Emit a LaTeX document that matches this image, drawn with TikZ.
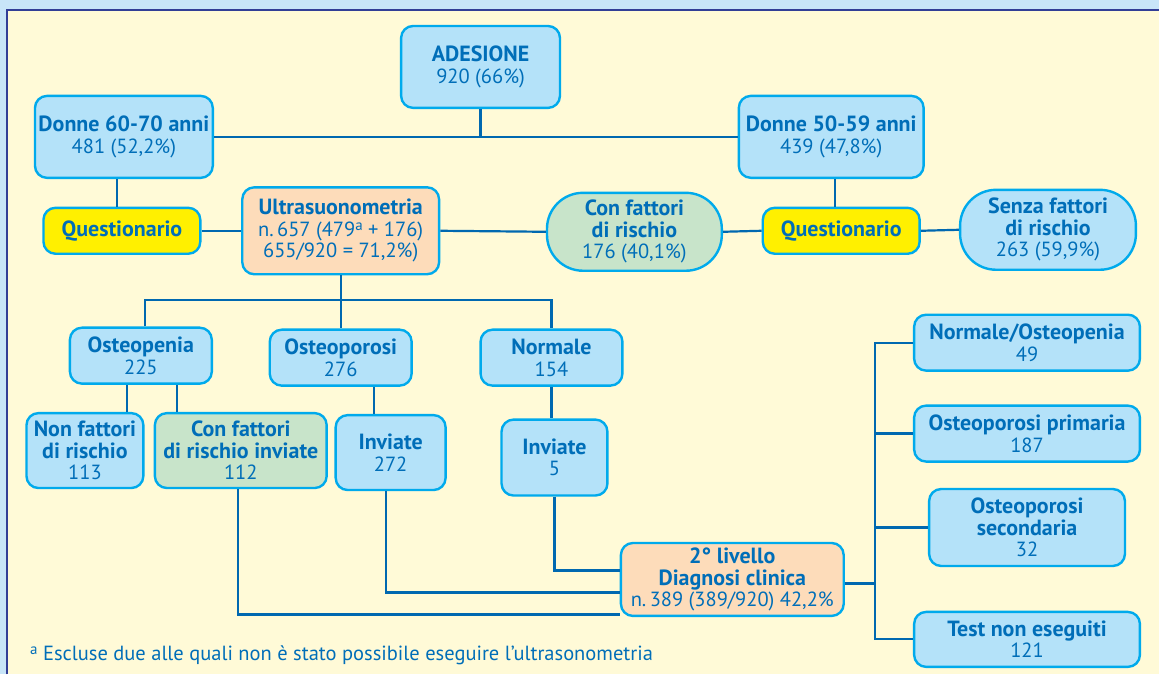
\documentclass[tikz,border=0pt]{standalone}
\usepackage{fontspec}
\setmainfont{PT Sans}
\usetikzlibrary{positioning}

\definecolor{sfondo}{RGB}{200,229,248}
\definecolor{pannello}{RGB}{255,250,215}
\definecolor{cornice}{RGB}{50,62,150}
\definecolor{bordo}{RGB}{0,170,236}
\definecolor{azzurro}{RGB}{180,226,249}
\definecolor{pesca}{RGB}{253,220,186}
\definecolor{verde}{RGB}{200,228,202}
\definecolor{giallo}{RGB}{255,240,0}
\definecolor{testo}{RGB}{0,110,184}
\definecolor{linea}{RGB}{0,104,176}

\newcommand{\tit}[1]{{\fontsize{22}{21.5}\selectfont\bfseries #1}}
\newcommand{\apice}{\raisebox{6pt}{\fontsize{15}{15}\selectfont a}}

\begin{document}
\begin{tikzpicture}[x=1pt,y=-1pt,font=\fontsize{20.5}{21.5}\selectfont]
\tikzstyle{block} = [rectangle, draw=bordo, line width=2.4pt, fill=azzurro,
text=testo, align=center, rounded corners=12pt, inner sep=1pt]
\tikzstyle{block_op} = [block, fill=pesca]
\tikzstyle{block_gr} = [block, fill=verde]
\tikzstyle{quest} = [block, fill=giallo]
\tikzstyle{cloud} = [block, rounded corners=36pt]
\tikzstyle{line} = [draw=linea, line width=2.2pt]

% sfondo e cornice
\fill[sfondo] (0,0) rectangle (1160,675);
\fill[pannello] (7,10) rectangle (1160,675);
\draw[cornice, line width=2.2pt] (7,675) -- (7,10) -- (1160,10);

% riga 1
\node [block, minimum width=159pt, minimum height=82pt] (adesione) at (481,67)
  {\tit{ADESIONE}\\920 (66\%)};
\node [block, minimum width=178pt, minimum height=82pt] (donne6070) at (124,137)
  {\tit{Donne 60-70 anni}\\481 (52,2\%)};
\node [block, minimum width=185pt, minimum height=82pt] (donne5059) at (832,137)
  {\tit{Donne 50-59 anni}\\439 (47,8\%)};
% riga 2
\node [quest, minimum width=157pt, minimum height=46pt] (quest1) at (122,231)
  {\tit{Questionario}};
\node [block_op, minimum width=197pt, minimum height=87pt] (ultra) at (341,231)
  {\tit{Ultrasuonometria}\\n.\,657 (479\apice{} + 176)\\655/920 = 71,2\%)};
\node [cloud, fill=verde, minimum width=175pt, minimum height=78pt] (confatt) at (635,232)
  {\tit{Con fattori}\\\tit{di rischio}\\176 (40,1\%)};
\node [quest, minimum width=157pt, minimum height=46pt] (quest2) at (842,231)
  {\tit{Questionario}};
\node [cloud, minimum width=176pt, minimum height=80pt] (senza) at (1049,230)
  {\tit{Senza fattori}\\\tit{di rischio}\\263 (59,9\%)};
% riga 3
\node [block, minimum width=142pt, minimum height=56pt] (osteopenia) at (141,356)
  {\tit{Osteopenia}\\225};
\node [block, minimum width=142pt, minimum height=56pt] (osteoporosi) at (341,358)
  {\tit{Osteoporosi}\\276};
\node [block, minimum width=142pt, minimum height=56pt] (normale) at (552,358)
  {\tit{Normale}\\154};
% riga 4
\node [block, minimum width=117pt, minimum height=75pt] (nonfatt) at (85,451)
  {\tit{Non fattori}\\\tit{di rischio}\\113};
\node [block_gr, minimum width=172pt, minimum height=75pt] (confattinv) at (241,451)
  {\tit{Con fattori}\\\tit{di rischio inviate}\\112};
\node [block, minimum width=110pt, minimum height=75pt] (inviate1) at (391,453)
  {\tit{Inviate}\\272};
\node [block, minimum width=106pt, minimum height=76pt] (inviate2) at (555,458)
  {\tit{Inviate}\\5};
% secondo livello
\node [block_op, minimum width=223pt, minimum height=73pt] (livello) at (733,580)
  {\tit{2° livello}\\\tit{Diagnosi clinica}\\n.\,389 (389/920) 42,2\%};
\node [block, minimum width=226pt, minimum height=56pt] (normost) at (1028,343)
  {\tit{Normale/Osteopenia}\\49};
\node [block, minimum width=226pt, minimum height=56pt] (primaria) at (1028,434)
  {\tit{Osteoporosi primaria}\\187};
\node [block, minimum width=196pt, minimum height=77pt] (secondaria) at (1028,528)
  {\tit{Osteoporosi}\\\tit{secondaria}\\32};
\node [block, minimum width=226pt, minimum height=55pt] (testne) at (1028,640)
  {\tit{Test non eseguiti}\\121};
% nota
\node [text=testo, anchor=west, inner sep=0pt] (nota) at (30,656)
  {\apice{} Escluse due alle quali non è stato possibile eseguire l’ultrasonometria};

\coordinate (bus) at (341,300);
\coordinate (rbus) at (876,584);

\tikzstyle{every path}=[line]
\path (adesione.south) -- (adesione.south |- donne6070.east);
\path (donne6070.east) -- (donne5059.west);
\path ([xshift=-7pt]donne6070.south) -- ([xshift=-7pt]donne6070.south |- quest1.north);
\path ([xshift=4pt]donne5059.south) -- ([xshift=4pt]donne5059.south |- quest2.north);
\path (quest1.east) -- (ultra.west);
\path (ultra.east) -- (confatt.west);
\path (confatt.east) -- (quest2.west);
\path (quest2.east) -- (senza.west);
\path (ultra.south) -- (osteoporosi.north);
\path ([xshift=4pt]osteopenia.north) |- (bus) -| (normale.north);
\path ([xshift=-14pt]osteopenia.south) -- ([xshift=-14pt]osteopenia.south |- nonfatt.north);
\path ([xshift=36pt]osteopenia.south) -- ([xshift=36pt]osteopenia.south |- confattinv.north);
\path ([xshift=33pt]osteoporosi.south) -- ([xshift=33pt]osteoporosi.south |- inviate1.north);
\path (normale.south) -- (normale.south |- inviate2.north);
\path (inviate2.south) |- ([yshift=9pt]livello.west);
\path ([xshift=-5pt]inviate1.south) |- ([yshift=-13pt]livello.west);
\path ([xshift=-3pt]confattinv.south) |- ([yshift=-35pt]livello.west);
\path ([yshift=-4pt]livello.east) -- (rbus);
\path (normost.west) -| (rbus |- testne.west) -- (testne.west);
\path (primaria.west) -- (rbus |- primaria.west);
\path (secondaria.west) -- (rbus |- secondaria.west);
\end{tikzpicture}
\end{document}
